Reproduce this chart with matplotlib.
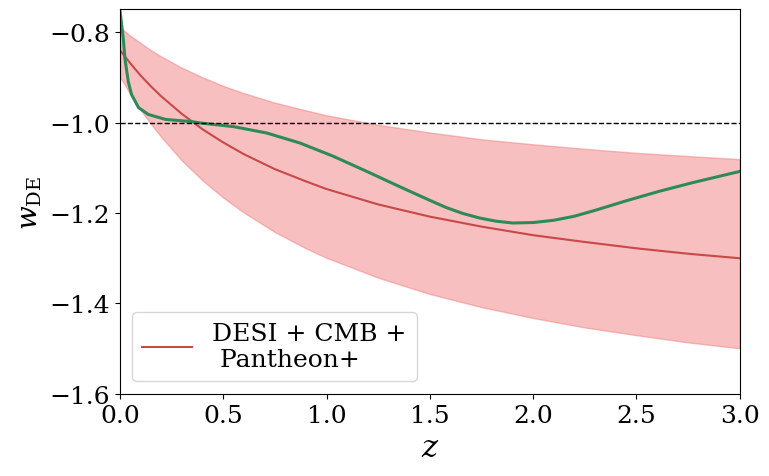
import matplotlib
matplotlib.use("Agg")
from matplotlib import pyplot as plt

plt.rcParams['font.family'] = 'DejaVu Serif'
plt.rcParams['mathtext.fontset'] = 'dejavuserif'

# redshift grid for the fitted curve and its band
z = [0, 0.05, 0.1, 0.15, 0.2, 0.3, 0.4, 0.5, 0.6, 0.75, 0.9, 1.0,
     1.25, 1.5, 1.75, 2.0, 2.25, 2.5, 2.75, 3.0]
w_fit = [-0.840, -0.869, -0.896, -0.920, -0.942, -0.981, -1.015, -1.044,
         -1.070, -1.103, -1.130, -1.147, -1.181, -1.208, -1.230, -1.249,
         -1.264, -1.278, -1.290, -1.300]
w_upper = [-0.789, -0.808, -0.824, -0.840, -0.854, -0.879, -0.900, -0.919,
           -0.935, -0.956, -0.973, -0.984, -1.005, -1.022, -1.037, -1.048,
           -1.058, -1.067, -1.074, -1.081]
w_lower = [-0.899, -0.937, -0.972, -1.003, -1.032, -1.084, -1.128, -1.166,
           -1.199, -1.242, -1.278, -1.299, -1.343, -1.379, -1.408, -1.432,
           -1.453, -1.470, -1.486, -1.499]

# green reconstruction
z_rec = [0, 0.016, 0.024, 0.04, 0.056, 0.09, 0.137, 0.22, 0.35, 0.39,
         0.55, 0.71, 0.87, 1.03, 1.19, 1.36, 1.50, 1.58, 1.66, 1.74, 1.82,
         1.90, 2.0, 2.1, 2.2, 2.3, 2.45, 2.61, 2.77, 3.0]
w_rec = [-0.752, -0.814, -0.858, -0.909, -0.938, -0.967, -0.982, -0.993,
         -0.998, -1.001, -1.009, -1.023, -1.045, -1.074, -1.107, -1.143,
         -1.172, -1.188, -1.201, -1.211, -1.218, -1.222, -1.221, -1.216,
         -1.207, -1.194, -1.173, -1.152, -1.133, -1.108]

fig = plt.figure(figsize=(7.69, 4.77), dpi=100)
ax = fig.add_axes([0.156, 0.172, 0.806, 0.806])

ax.fill_between(z, w_lower, w_upper, color='lightcoral', alpha=0.5, lw=1)
ax.plot(z, w_fit, color='#c94848', lw=1.5, label='DESI + CMB +\n Pantheon+')
ax.plot(z_rec, w_rec, color='seagreen', lw=2.2)
ax.axhline(-1, color='black', ls='--', lw=1)

ax.set_xlim(0, 3)
ax.set_ylim(-1.6, -0.75)
ax.set_yticks([-1.6, -1.4, -1.2, -1.0, -0.8])
ax.tick_params(labelsize=18)
ax.set_xlabel(r'$z$', fontsize=22)
ax.set_ylabel(r'$w_{\rm DE}$', fontsize=20)
ax.legend(loc='lower left', fontsize=18)

plt.savefig('out.png', dpi=100)
